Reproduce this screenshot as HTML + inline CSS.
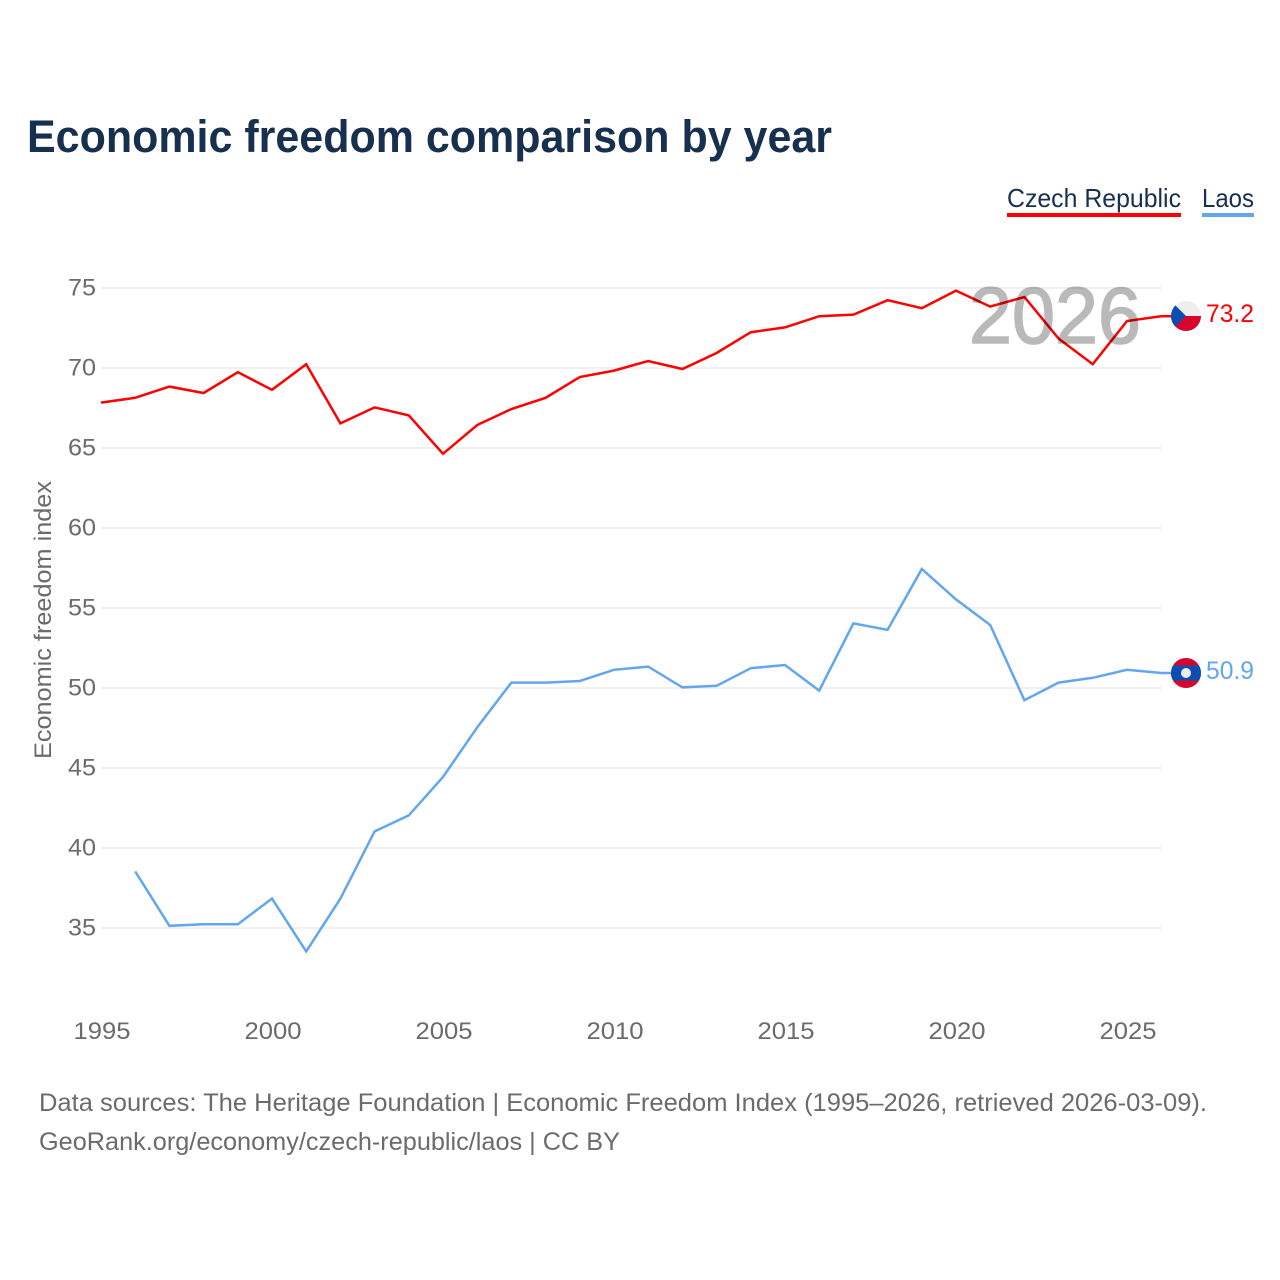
<!DOCTYPE html>
<html lang="en">
<head>
<meta charset="utf-8">
<title>Economic freedom comparison by year</title>
<style>
html,body{margin:0;padding:0;background:#fff;}
svg{display:block;}
text{font-family:"Liberation Sans",sans-serif;}
</style>
</head>
<body>
<svg id="chart" width="1280" height="1280" viewBox="0 0 1280 1280" xmlns="http://www.w3.org/2000/svg">
  <defs>
    <clipPath id="flag-clip-cz"><circle cx="1186" cy="316" r="15"/></clipPath>
    <clipPath id="flag-clip-la"><circle cx="1186" cy="673" r="15"/></clipPath>
  </defs>
  <rect x="0" y="0" width="1280" height="1280" fill="#fff"/>
  <text x="27" y="152" font-size="45" font-weight="700" fill="#17304f" textLength="805" lengthAdjust="spacingAndGlyphs">Economic freedom comparison by year</text>

  <g>
    <text x="1007" y="207" font-size="26" fill="#17304f" textLength="174" lengthAdjust="spacingAndGlyphs">Czech Republic</text>
    <rect x="1007" y="213" width="174" height="4" fill="#ff0000"/>
  </g>
  <g>
    <text x="1202" y="207" font-size="26" fill="#17304f" textLength="52" lengthAdjust="spacingAndGlyphs">Laos</text>
    <rect x="1202" y="213" width="52" height="4" fill="#62a6ee"/>
  </g>

  <g id="grid"></g>
  <g id="y-ticks"></g>
  <g id="x-ticks"></g>
  <text transform="translate(51,759) rotate(-90)" font-size="24" fill="#6b6b6b" textLength="278" lengthAdjust="spacingAndGlyphs">Economic freedom index</text>

  <g id="series"></g>

  <text x="969" y="343" font-size="80" fill="#000" stroke="#000" stroke-width="1.6" opacity="0.27" textLength="172" lengthAdjust="spacingAndGlyphs">2026</text>

  <g clip-path="url(#flag-clip-cz)">
    <rect x="1171" y="301" width="30" height="15" fill="#eeeeee"/>
    <rect x="1171" y="316" width="30" height="15" fill="#d7042b"/>
    <polygon points="1171,301 1171,331 1186,316" fill="#0b4eb3"/>
  </g>
  <g clip-path="url(#flag-clip-la)">
    <rect x="1171" y="658" width="30" height="30" fill="#d7042b"/>
    <rect x="1171" y="665.5" width="30" height="15" fill="#0b4eb3"/>
    <circle cx="1186" cy="673" r="5" fill="#eeeeee"/>
  </g>

  <text id="end-cz" x="1206" y="322" font-size="25" fill="#ff0000" textLength="48" lengthAdjust="spacingAndGlyphs"></text>
  <text id="end-la" x="1206" y="679" font-size="25" fill="#62a6ee" textLength="48" lengthAdjust="spacingAndGlyphs"></text>

  <text x="39" y="1111" font-size="25" fill="#6b6b6b" textLength="1168" lengthAdjust="spacingAndGlyphs">Data sources: The Heritage Foundation | Economic Freedom Index (1995–2026, retrieved 2026-03-09).</text>
  <text x="39" y="1150" font-size="25" fill="#6b6b6b" textLength="581" lengthAdjust="spacingAndGlyphs">GeoRank.org/economy/czech-republic/laos | CC BY</text>
</svg>
<script>
const years = [1995,1996,1997,1998,1999,2000,2001,2002,2003,2004,2005,2006,2007,2008,2009,2010,2011,2012,2013,2014,2015,2016,2017,2018,2019,2020,2021,2022,2023,2024,2025,2026];
const czechValues = [67.8,68.1,68.8,68.4,69.7,68.6,70.2,66.5,67.5,67.0,64.6,66.4,67.4,68.1,69.4,69.8,70.4,69.9,70.9,72.2,72.5,73.2,73.3,74.2,73.7,74.8,73.8,74.4,71.8,70.2,72.9,73.2];
const laosValues = [null,38.5,35.1,35.2,35.2,36.8,33.5,36.8,41.0,42.0,44.4,47.5,50.3,50.3,50.4,51.1,51.3,50.0,50.1,51.2,51.4,49.8,54.0,53.6,57.4,55.5,53.9,49.2,50.3,50.6,51.1,50.9];
const yTickValues = [35,40,45,50,55,60,65,70,75];
const xTickValues = [1995,2000,2005,2010,2015,2020,2025];

const NS = 'http://www.w3.org/2000/svg';
const xScale = function (year) { return 102 + (year - 1995) * 34.2; };
const yScale = function (value) { return 288 + (75 - value) * 16; };
const lineX = function (year) { return xScale(year) - 1; };
const lineY = function (value) { return yScale(value) - 0.6; };

function make(tag, parent, attrs, text) {
  const el = document.createElementNS(NS, tag);
  Object.keys(attrs).forEach(function (k) { el.setAttribute(k, attrs[k]); });
  if (text !== undefined) el.textContent = text;
  parent.appendChild(el);
  return el;
}

const gridGroup = document.getElementById('grid');
const yGroup = document.getElementById('y-ticks');
const xGroup = document.getElementById('x-ticks');
const seriesGroup = document.getElementById('series');

yTickValues.forEach(function (v) {
  const line = make('line', gridGroup, {x1: 101, x2: 1162, y1: yScale(v), y2: yScale(v), stroke: '#f0f0f0', 'stroke-width': 2});
  
  
  const label = make('text', yGroup, {x: 96, y: yScale(v) + 7.5, 'font-size': 24, fill: '#6b6b6b', 'text-anchor': 'end', textLength: 28, lengthAdjust: 'spacingAndGlyphs'}, String(v));
  
  
});

xTickValues.forEach(function (v) {
  const label = make('text', xGroup, {x: xScale(v), y: 1039, 'font-size': 24, fill: '#6b6b6b', 'text-anchor': 'middle', textLength: 57, lengthAdjust: 'spacingAndGlyphs'}, String(v));
  
  
});

function drawSeries(values, colour, key) {
  const pts = [];
  values.forEach(function (v, i) {
    if (v !== null) pts.push(lineX(years[i]).toFixed(2) + ',' + lineY(v).toFixed(2));
  });
  const line = make('polyline', seriesGroup, {points: pts.join(' '), fill: 'none', stroke: colour, 'stroke-width': 2.5, 'stroke-linejoin': 'miter'});
  
  
  const last = values[values.length - 1];
  const lastX = lineX(years[years.length - 1]);
  const connector = make('line', seriesGroup, {x1: lastX, x2: lastX + 11, y1: lineY(last), y2: lineY(last), stroke: colour, 'stroke-width': 2.5});
  
  
}

drawSeries(czechValues, '#ff0000', 'czech-republic');
drawSeries(laosValues, '#62a6ee', 'laos');

document.getElementById('end-cz').textContent = czechValues[czechValues.length - 1].toFixed(1);
document.getElementById('end-la').textContent = laosValues[laosValues.length - 1].toFixed(1);
</script>
</body>
</html>
